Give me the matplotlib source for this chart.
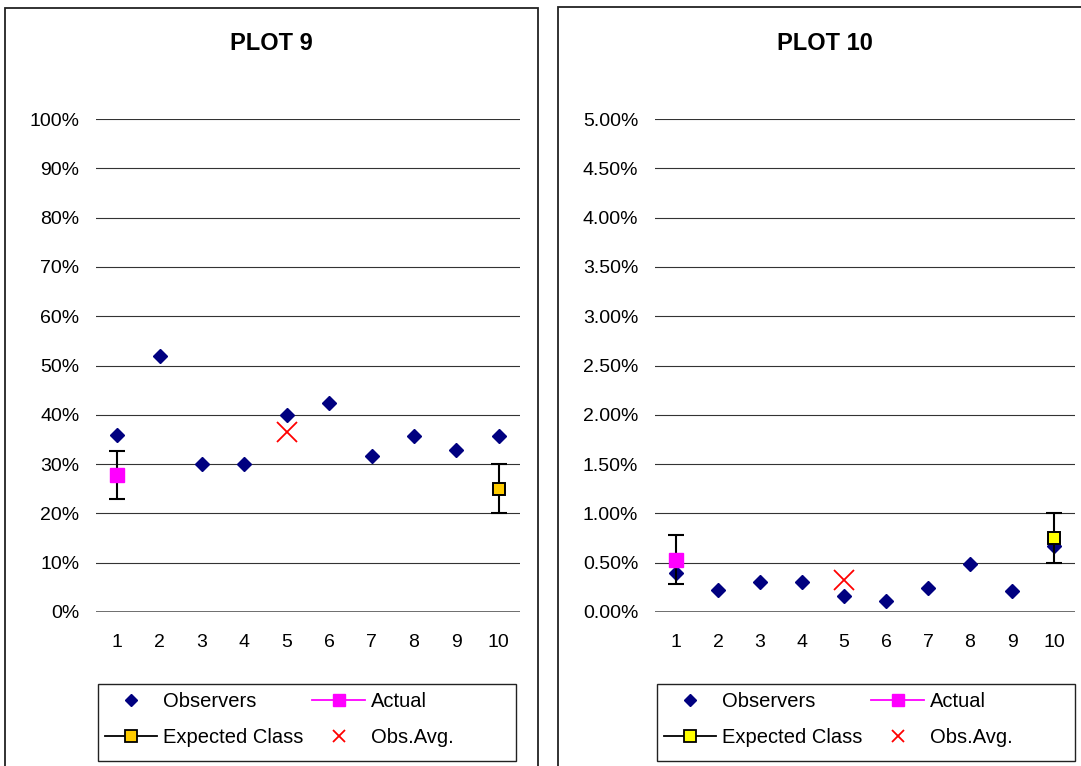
import matplotlib
matplotlib.use("Agg")
import matplotlib.pyplot as plt
from matplotlib.lines import Line2D
from matplotlib.patches import Rectangle
from matplotlib.ticker import FuncFormatter

plt.rcParams['font.family'] = ['Liberation Sans', 'DejaVu Sans']

categories = [1, 2, 3, 4, 5, 6, 7, 8, 9, 10]

# Plot 9 data (fractions)
p9_observers = [0.36, 0.52, 0.30, 0.30, 0.40, 0.424, 0.316, 0.358, 0.328, 0.358]
p9_actual_x, p9_actual, p9_actual_err = 1, 0.278, 0.049
p9_expected_x, p9_expected, p9_expected_err = 10, 0.25, 0.05
p9_avg_x, p9_avg = 5, 0.365

# Plot 10 data (fractions)
p10_observers = [0.0040, 0.00225, 0.0030, 0.0030, 0.00165, 0.0011, 0.00245, 0.0049, 0.0021, 0.0067]
p10_actual_x, p10_actual, p10_actual_err = 1, 0.0053, 0.0025
p10_expected_x, p10_expected, p10_expected_err = 10, 0.0075, 0.0025
p10_avg_x, p10_avg = 5, 0.0032

W, H = 1081, 766
fig = plt.figure(figsize=(W / 100, H / 100), dpi=100)

def fx(x):
    return x / W

def fy(y):
    return 1 - y / H

NAVY = '#000080'
MAGENTA = '#FF00FF'

def make_panel(left_px, right_px, title, title_cx, obs, ax_, a_, ae_, ex_, e_, ee_, avx, av_, ymax, ystep, fmt, exp_color, frame_x0, frame_y0):
    # panel frame
    fig.patches.append(Rectangle((fx(frame_x0), fy(800)), fx(533), fy(frame_y0) - fy(800),
                                 transform=fig.transFigure, fill=False, edgecolor='#222222', linewidth=1.3))
    ax = fig.add_axes([fx(left_px), fy(612), fx(right_px - left_px), fy(119) - fy(612)])
    ax.set_xlim(0.5, 10.5)
    ax.set_ylim(0, ymax)
    ticks = [i * ystep for i in range(int(round(ymax / ystep)) + 1)]
    ax.set_yticks(ticks)
    ax.yaxis.set_major_formatter(FuncFormatter(fmt))
    ax.set_xticks(categories)
    ax.set_xticklabels([str(c) for c in categories])
    for s in ax.spines.values():
        s.set_visible(False)
    ax.tick_params(length=0, labelsize=14, colors='black')
    ax.tick_params(axis='y', pad=12)
    ax.tick_params(axis='x', pad=16)
    for t in ticks:
        ax.axhline(t, color='#333333' if t > 0 else '#555555', linewidth=0.8 if t > 0 else 1.2, zorder=1)
    ax.plot(categories, obs, ls='none', marker='D', ms=7, color=NAVY, zorder=3, clip_on=False)
    ax.errorbar([ax_], [a_], yerr=[ae_], fmt='none', ecolor='black', elinewidth=1.5, capsize=5.5, capthick=1.5, zorder=4)
    ax.plot([ax_], [a_], ls='none', marker='s', ms=9.5, color=MAGENTA, mec=MAGENTA, zorder=5)
    ax.errorbar([ex_], [e_], yerr=[ee_], fmt='none', ecolor='black', elinewidth=1.5, capsize=5.5, capthick=1.5, zorder=4)
    ax.plot([ex_], [e_], ls='none', marker='s', ms=9, mfc=exp_color, mec='black', mew=1.4, zorder=5)
    ax.plot([avx], [av_], ls='none', marker='x', ms=14, mew=1.3, color='red', zorder=6)
    fig.text(fx(title_cx), fy(43), title, ha='center', va='center', fontsize=17, fontweight='bold')

    # legend
    handles = [
        Line2D([], [], ls='none', marker='D', ms=6.3, color=NAVY),
        Line2D([], [], color='black', lw=1.3, marker='s', ms=8.5, mfc=exp_color, mec='black', mew=1.3),
        Line2D([], [], color=MAGENTA, lw=1.3, marker='s', ms=9, mfc=MAGENTA, mec=MAGENTA),
        Line2D([], [], ls='none', marker='x', ms=9, mew=1.3, color='red'),
    ]
    labels = ['Observers', 'Expected Class', 'Actual', 'Obs.Avg.']
    lx0 = left_px + 1.5
    fig.patches.append(Rectangle((fx(lx0), fy(761)), fx(418), fy(684) - fy(761),
                                 transform=fig.transFigure, fill=False, edgecolor='#222222', linewidth=1.0))
    ax.legend(handles, labels, ncol=2, loc='upper left', bbox_to_anchor=(fx(lx0 + 7), fy(692)),
              bbox_transform=fig.transFigure, frameon=False, fontsize=14.5, handlelength=2.6,
              handletextpad=0.3, columnspacing=0.45, labelspacing=0.85, borderpad=0, borderaxespad=0)
    return ax

make_panel(96, 520, 'PLOT 9', 271, p9_observers, p9_actual_x, p9_actual, p9_actual_err,
           p9_expected_x, p9_expected, p9_expected_err, p9_avg_x, p9_avg,
           1.0, 0.1, lambda v, p: f"{v*100:.0f}%", '#FFCC00', 5, 8)
make_panel(655, 1075, 'PLOT 10', 825, p10_observers, p10_actual_x, p10_actual, p10_actual_err,
           p10_expected_x, p10_expected, p10_expected_err, p10_avg_x, p10_avg,
           0.05, 0.005, lambda v, p: f"{v*100:.2f}%", '#FFFF00', 558, 7)

fig.savefig('out.png', dpi=100)
